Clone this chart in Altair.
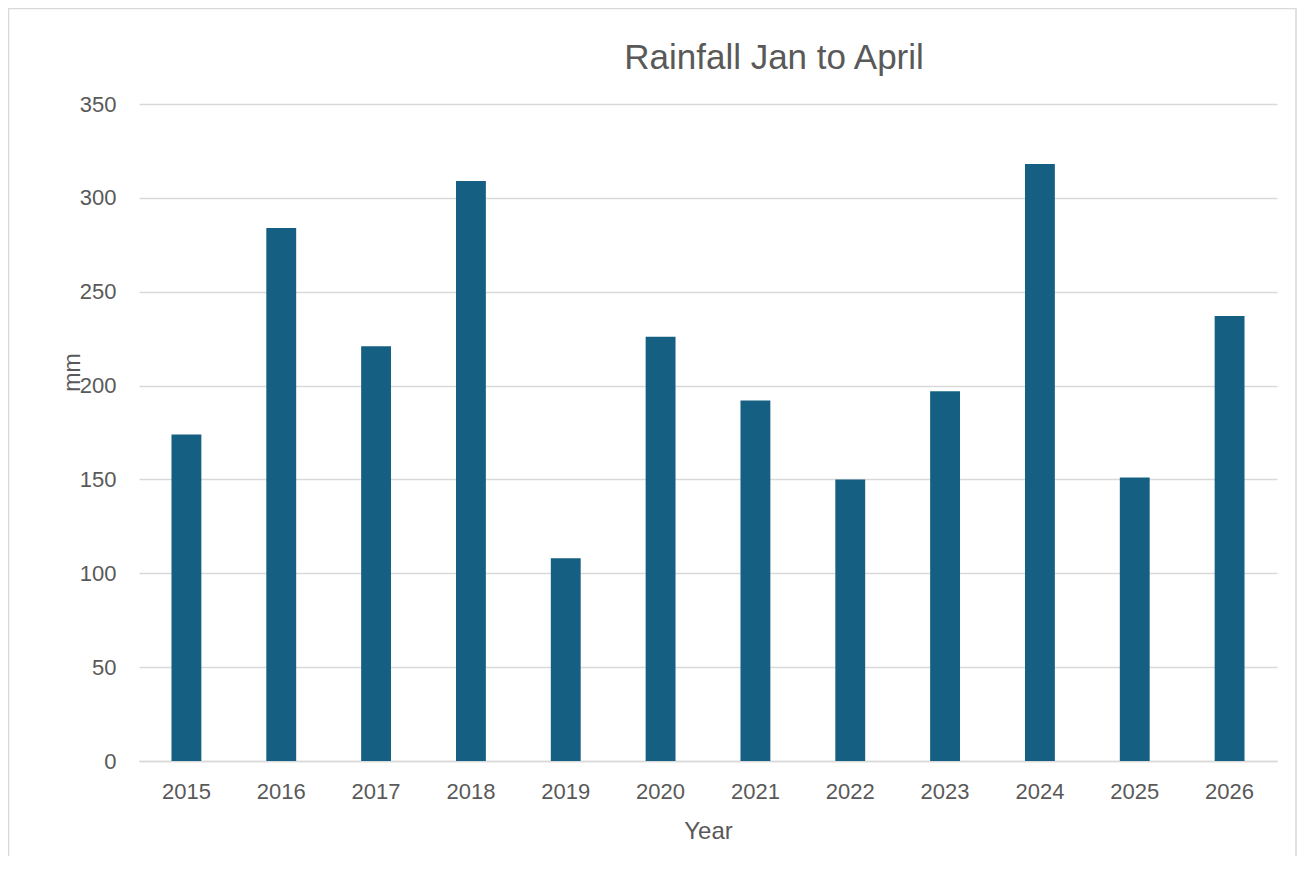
import altair as alt
import pandas as pd

years = ["2015", "2016", "2017", "2018", "2019", "2020", "2021", "2022", "2023", "2024", "2025", "2026"]
rainfall = [174, 284, 221, 309, 108, 226, 192, 150, 197, 318, 151, 237]

df = pd.DataFrame({"Year": years, "mm": rainfall})

FONT = "Liberation Sans"
TXT = "#595959"
GRID = "#d9d9d9"

bars = alt.Chart(df).mark_bar(color="#156082").encode(
    x=alt.X("Year:N", sort=years,
            scale=alt.Scale(paddingInner=0.685, paddingOuter=0.3425),
            axis=alt.Axis(title="Year", labelAngle=0, ticks=False,
                          domainColor=GRID, domainWidth=1.5,
                          labelFontSize=22, labelColor=TXT, labelFont=FONT,
                          labelPadding=20,
                          titleFontSize=24, titleColor=TXT, titleFont=FONT,
                          titleFontWeight="normal", titleY=58)),
    y=alt.Y("mm:Q", scale=alt.Scale(domain=[0, 350]),
            axis=alt.Axis(title="mm", values=[0, 50, 100, 150, 200, 250, 300, 350],
                          ticks=False, domain=False, gridColor=GRID, gridWidth=1.5,
                          labelFontSize=22, labelColor=TXT, labelFont=FONT,
                          labelPadding=23,
                          titleFontSize=23, titleColor=TXT, titleFont=FONT,
                          titleFontWeight="normal", titleX=-55, titleY=268)),
)

border = alt.Chart(alt.Data(values=[{}])).mark_rect(
    fill=None, stroke=GRID, strokeWidth=1.5, clip=False
).encode(
    x=alt.value(-130.5), x2=alt.value(1157),
    y=alt.value(-95.5), y2=alt.value(900),
)

chart = alt.layer(border, bars).properties(
    width=1138, height=657,
    title=alt.Title("Rainfall Jan to April", fontSize=35, color=TXT, font=FONT,
                    fontWeight="normal", anchor="middle", dx=66, offset=34, dy=102),
    padding={"left": 131, "top": 96, "right": 20, "bottom": 95},
    autosize=alt.AutoSizeParams(type="none"),
).configure_view(stroke=None)

chart.save("out.html", embed_options={"renderer": "svg", "actions": False})
